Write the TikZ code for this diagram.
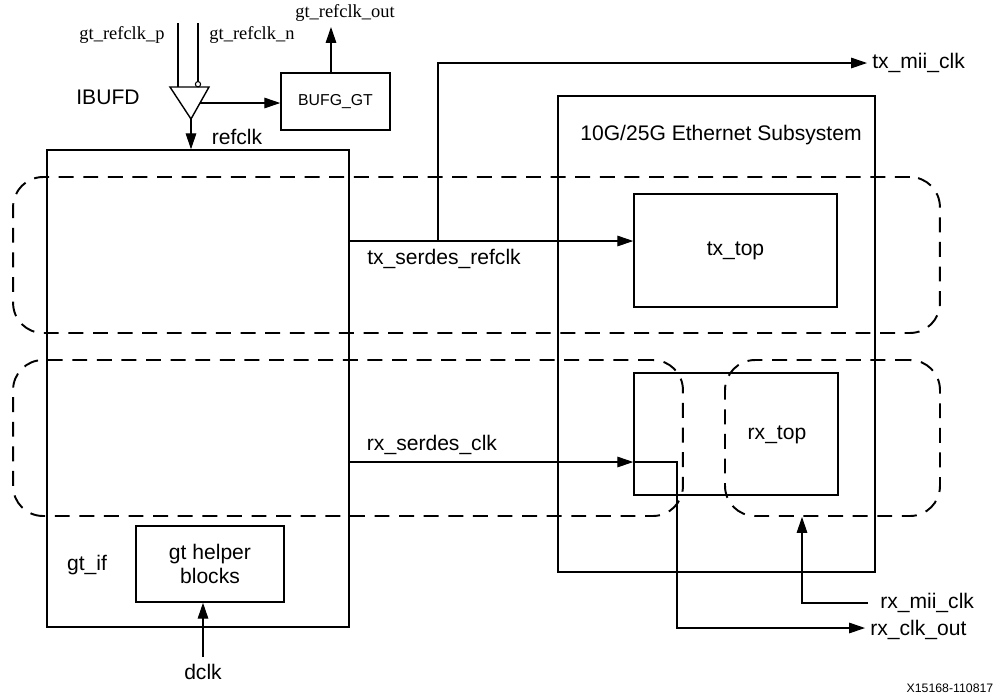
\documentclass[tikz,border=0pt]{standalone}
\usepackage{fontspec}
\setmainfont{Liberation Sans}
\newfontfamily\tmsfont{Liberation Serif}
\usetikzlibrary{arrows.meta}
\tikzset{
	blk/.style={draw,line width=0.9pt,inner sep=0pt},
	grp/.style={draw,line width=1.1pt,dash pattern=on 8.5pt off 5.5pt,rounded corners=0.6cm,inner sep=0pt},
	lbl/.style={font=\fontsize{12}{14}\selectfont,inner sep=1pt},
	sig/.style={font=\tmsfont\fontsize{10.5}{12}\selectfont,inner sep=1pt},
}
\begin{document}
\begin{tikzpicture}[x=0.02cm,y=-0.02cm,>={Triangle[length=9pt,width=6pt]},line width=0.6pt]
		\useasboundingbox (0,0) rectangle (1005,698);
		% blocks
		\node (gtif) [blk,minimum width=6.04cm,minimum height=9.54cm] at (198,388.5) {};
		\node (eth) [blk,minimum width=6.34cm,minimum height=9.52cm] at (716.5,334) {};
		\node (txtop) [blk,minimum width=4.06cm,minimum height=2.26cm] at (735.5,250.5) {};
		\node (rxtop) [blk,minimum width=4.08cm,minimum height=2.44cm] at (736,434) {};
		\node (bufg) [blk,minimum width=2.18cm,minimum height=1.14cm,font=\fontsize{9}{11}\selectfont] at (335.5,101.5) {BUFG\_GT};
		\node (helper) [blk,minimum width=2.96cm,minimum height=1.52cm,lbl,align=center] at (210,564) {gt helper\\blocks};
		% dashed groups
		\node (txgrp) [grp,minimum width=18.54cm,minimum height=3.12cm] at (476.5,255) {};
		\node (rxl) [grp,minimum width=13.4cm,minimum height=3.12cm] at (348,438) {};
		\node (rxr) [grp,minimum width=4.3cm,minimum height=3.12cm] at (832.5,438) {};
		% block names
		\node (ethname) [lbl] at (721,135) {10G/25G Ethernet Subsystem};
		\node (txname) [lbl] at (735.5,250.5) {tx\_top};
		\node (rxname) [lbl] at (777,435) {rx\_top};
		\node (gtifname) [lbl] at (87,565) {gt\_if};
		% IBUFD
		\draw[line width=0.8pt] (170,87) -- (209,87) -- (191,119) -- cycle;
		\coordinate (ibo) at (191,119);
		\coordinate (ibp) at (178,23);
		\coordinate (ibn) at (198,23);
		\draw (ibp) -- (ibp |- 0,87);
		\draw (ibn) -- (ibn |- 0,81.5);
		\draw (198,84.2) circle[radius=1.5pt];
		\node (ibname) [lbl] at (108,97) {IBUFD};
		\node (pname) [sig] at (122,35) {gt\_refclk\_p};
		\node (nname) [sig] at (252,35) {gt\_refclk\_n};
		\draw[->] (200,103) -- (bufg.west |- 0,103);
		\coordinate (gto) at (331,27);
		\draw[->] (bufg.north -| gto) -- (gto);
		\node (gtoname) [sig] at (345,13) {gt\_refclk\_out};
		\draw[->] (ibo) -- (ibo |- gtif.north);
		\node (refname) [lbl] at (237,137) {refclk};
		% tx clocks
		\coordinate (txtap) at (438,241);
		\coordinate (txmii) at (867,63);
		\draw[->] (gtif.east |- txtap) -- (txtop.west |- txtap);
		\draw[->] (txtap) |- (txmii);
		\node (txsname) [lbl] at (444,259) {tx\_serdes\_refclk};
		\node (txmname) [lbl,anchor=west] at (870,63) {tx\_mii\_clk};
		% rx clocks
		\coordinate (rxin) at (0,462);
		\coordinate (rxout) at (865,628);
		\draw[->] (gtif.east |- rxin) -- (rxtop.west |- rxin);
		\draw[->] (rxtop.west |- rxin) -- (677,462) |- (rxout);
		\node (rxsname) [lbl] at (432,445) {rx\_serdes\_clk};
		\node (rxoname) [lbl,anchor=west] at (868,630) {rx\_clk\_out};
		\coordinate (mii) at (868,603);
		\coordinate (miiup) at (802,603);
		\draw[->] (mii) -- (miiup) -- (miiup |- rxr.south);
		\node (rxmname) [lbl,anchor=west] at (878,603) {rx\_mii\_clk};
		% dclk
		\coordinate (dclk) at (203,657);
		\draw[->] (dclk) -- (dclk |- helper.south);
		\node (dclkname) [lbl] at (203,672) {dclk};
		\node (fig) [font=\fontsize{7}{8}\selectfont] at (950,688) {X15168-110817};
	\end{tikzpicture}
\end{document}
